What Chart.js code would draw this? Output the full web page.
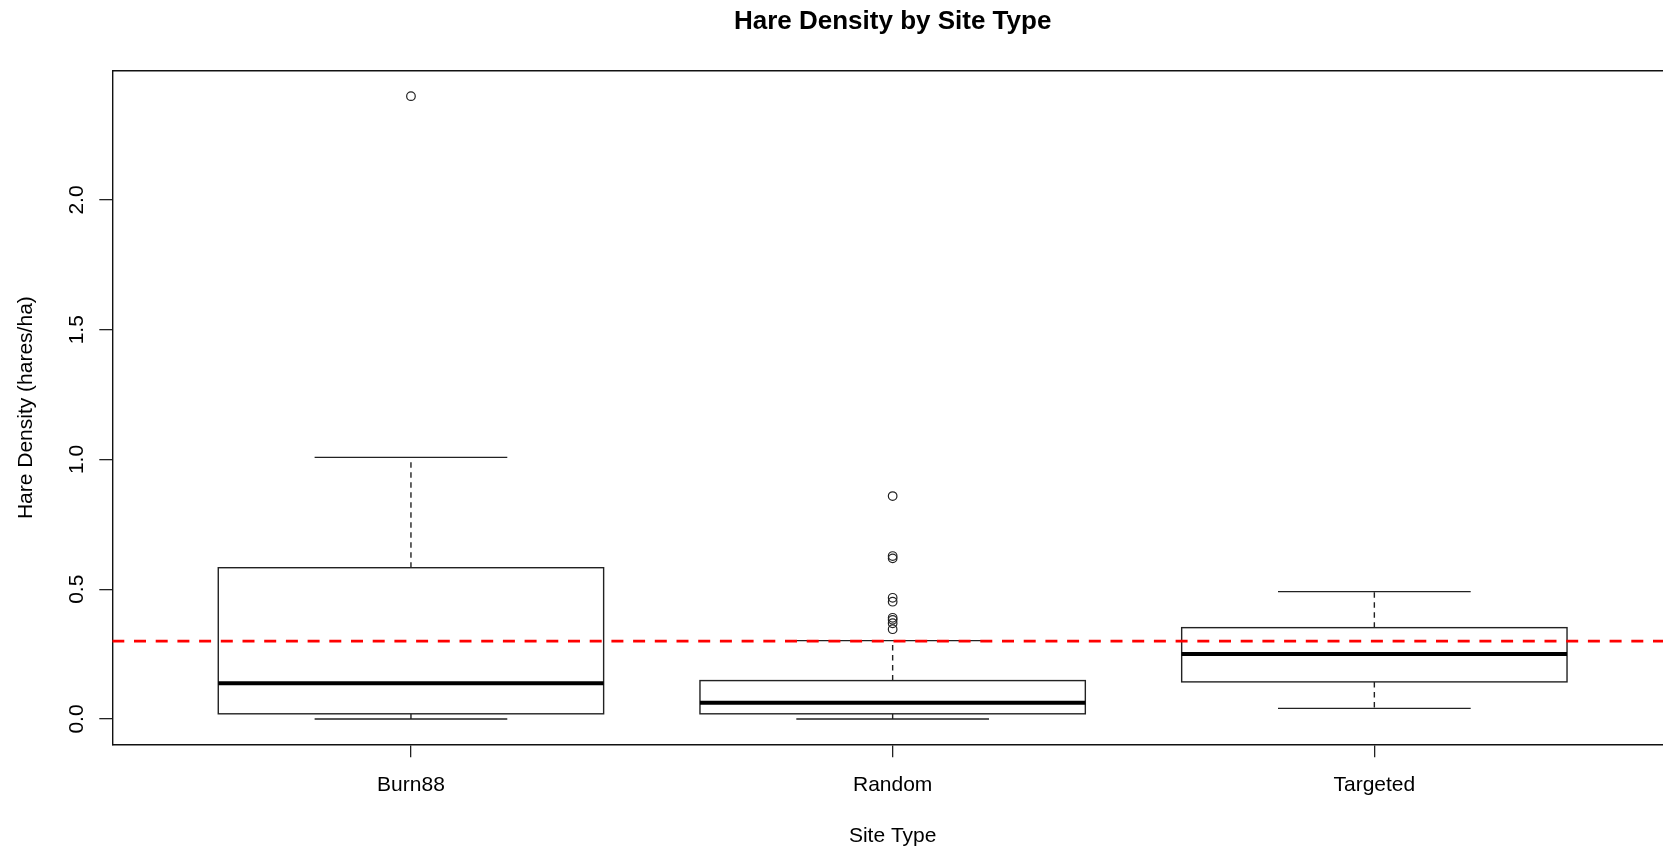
<!DOCTYPE html>
<html>
<head>
<meta charset="utf-8">
<title>Hare Density by Site Type</title>
<script src="https://cdn.jsdelivr.net/npm/chart.js@4"></script>
<style>
  html, body { margin: 0; padding: 0; background: #fff; }
  /* plot frame runs slightly past the right edge, so clip it */
  #frame { width: 1663px; height: 850px; overflow: hidden; position: relative; }
  #hare-chart { display: block; }
</style>
</head>
<body>
<div id="frame"><canvas id="hare-chart" width="1673" height="850"></canvas></div>
<script>
// box plot summaries per site type
const siteTypes = ['Burn88', 'Random', 'Targeted'];
const lowerWhisker = [0.000, 0.000, 0.041];
const lowerQuartile = [0.020, 0.020, 0.143];
const medians = [0.138, 0.063, 0.250];
const upperQuartile = [0.583, 0.148, 0.352];
const upperWhisker = [1.008, 0.302, 0.491];

// points beyond the whiskers
const burnOutliers = [2.40];
const randomOutliers = [0.859, 0.628, 0.619, 0.467, 0.452, 0.390, 0.382, 0.369, 0.346];
const targetedOutliers = [];

const refLine = 0.30;
const yTicks = [0, 0.5, 1.0, 1.5, 2.0];

const font = 'Liberation Sans, Arial, sans-serif';
const xMin = 0.38, xMax = 3.62;

const outlierPoints = [];
[burnOutliers, randomOutliers, targetedOutliers].forEach((list, i) => {
    list.forEach(v => outlierPoints.push({ x: i + 1, y: v }));
});

// boxes, whiskers and medians, drawn under the datasets
const boxPlugin = {
    id: 'boxes',
    beforeDatasetsDraw(chart) {
        const { ctx, scales: { x, y } } = chart;
        ctx.save();
        siteTypes.forEach((name, i) => {
            const cx = x.getPixelForValue(i + 1);
            const bl = x.getPixelForValue(i + 1 - 0.4);
            const br = x.getPixelForValue(i + 1 + 0.4);
            const sl = x.getPixelForValue(i + 1 - 0.2);
            const sr = x.getPixelForValue(i + 1 + 0.2);
            const yLo = y.getPixelForValue(lowerWhisker[i]);
            const yQ1 = y.getPixelForValue(lowerQuartile[i]);
            const yMed = y.getPixelForValue(medians[i]);
            const yQ3 = y.getPixelForValue(upperQuartile[i]);
            const yHi = y.getPixelForValue(upperWhisker[i]);

            ctx.strokeStyle = '#222';
            ctx.lineWidth = 1.4;

            // dashed whiskers
            ctx.setLineDash([5.5, 4.5]);
            ctx.beginPath();
            ctx.moveTo(cx, yQ3); ctx.lineTo(cx, yHi);
            ctx.moveTo(cx, yQ1); ctx.lineTo(cx, yLo);
            ctx.stroke();
            ctx.setLineDash([]);

            // staples
            ctx.beginPath();
            ctx.moveTo(sl, yHi); ctx.lineTo(sr, yHi);
            ctx.moveTo(sl, yLo); ctx.lineTo(sr, yLo);
            ctx.stroke();

            // box
            ctx.fillStyle = '#fff';
            ctx.fillRect(bl, yQ3, br - bl, yQ1 - yQ3);
            ctx.strokeRect(bl, yQ3, br - bl, yQ1 - yQ3);

            // median
            ctx.strokeStyle = '#000';
            ctx.lineWidth = 4;
            ctx.beginPath();
            ctx.moveTo(bl, yMed); ctx.lineTo(br, yMed);
            ctx.stroke();
        });
        ctx.restore();
    },
    afterDraw(chart) {
        // rotated y tick labels, like base R
        const { ctx, scales: { y } } = chart;
        ctx.save();
        ctx.fillStyle = '#000';
        ctx.font = '21px ' + font;
        ctx.textAlign = 'center';
        ctx.textBaseline = 'middle';
        y.ticks.forEach(t => {
            ctx.save();
            ctx.translate(77, y.getPixelForValue(t.value));
            ctx.rotate(-Math.PI / 2);
            ctx.fillText(t.value.toFixed(1), 0, 0);
            ctx.restore();
        });
        ctx.restore();
    }
};

const ctx = document.getElementById('hare-chart').getContext('2d');
const hareChart = new Chart(ctx, {
    type: 'scatter',
    data: {
        datasets: [
            {
                label: 'Outliers',
                data: outlierPoints,
                pointStyle: 'circle',
                pointRadius: 4.3,
                pointBorderWidth: 1.2,
                pointBorderColor: '#222',
                pointBackgroundColor: 'rgba(0,0,0,0)',
            },
            {
                type: 'line',
                label: 'Reference',
                data: [{ x: xMin, y: refLine }, { x: xMax, y: refLine }],
                borderColor: '#ff0000',
                borderWidth: 2.7,
                borderDash: [12, 9.7],
                pointRadius: 0,
                fill: false,
            },
        ],
    },
    options: {
        responsive: false,
        animation: false,
        events: [],
        layout: { padding: 0, autoPadding: false },
        plugins: {
            legend: { display: false },
            tooltip: { enabled: false },
        },
        scales: {
            x: {
                type: 'linear',
                position: 'bottom',
                min: xMin,
                max: xMax,
                afterBuildTicks: s => { s.ticks = siteTypes.map((c, i) => ({ value: i + 1 })); },
                afterFit: s => { s.height = 105.7; },
                ticks: {
                    callback: v => siteTypes[v - 1],
                    color: '#000',
                    font: { family: font, size: 21 },
                    padding: 15,
                    maxRotation: 0,
                },
                grid: { drawOnChartArea: false, drawTicks: true, tickLength: 13, color: '#222', lineWidth: 1.3 },
                border: { display: true, color: '#111', width: 1.4 },
                title: {
                    display: true,
                    text: 'Site Type',
                    color: '#000',
                    font: { family: font, size: 21 },
                    padding: { top: 0, bottom: 1.4 },
                },
            },
            x2: {
                type: 'linear',
                position: 'top',
                min: xMin,
                max: xMax,
                afterFit: s => { s.height = 71; },
                ticks: { display: false },
                grid: { display: false },
                border: { display: true, color: '#111', width: 1.4 },
                title: {
                    display: true,
                    text: 'Hare Density by Site Type',
                    color: '#000',
                    font: { family: font, size: 26, weight: 'bold' },
                    padding: { top: 6.5, bottom: 0 },
                },
            },
            y: {
                type: 'linear',
                position: 'left',
                min: -0.0975,
                max: 2.497,
                afterBuildTicks: s => { s.ticks = yTicks.map(v => ({ value: v })); },
                afterFit: s => { s.width = 112.3; },
                ticks: { display: false },
                grid: { drawOnChartArea: false, drawTicks: true, tickLength: 13, color: '#222', lineWidth: 1.3 },
                border: { display: true, color: '#111', width: 1.4 },
                title: {
                    display: true,
                    text: 'Hare Density (hares/ha)',
                    color: '#000',
                    font: { family: font, size: 21 },
                    padding: { top: 14, bottom: 0 },
                },
            },
        },
    },
    plugins: [boxPlugin],
});
</script>
</body>
</html>
